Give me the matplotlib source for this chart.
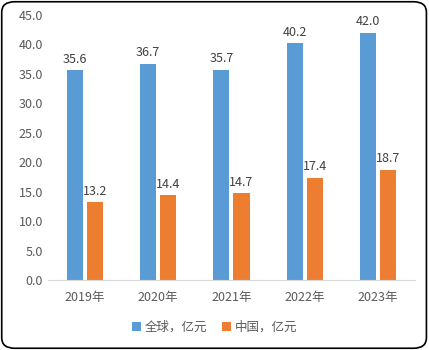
import numpy as np
import matplotlib
matplotlib.use("Agg")
import matplotlib.pyplot as plt
from matplotlib.patches import FancyBboxPatch

plt.rcParams['font.family'] = ['Noto Sans CJK SC', 'DejaVu Sans']

years = ['2019年', '2020年', '2021年', '2022年', '2023年']
world = [35.6, 36.7, 35.7, 40.2, 42.0]
china = [13.2, 14.4, 14.7, 17.4, 18.7]

fig = plt.figure(figsize=(4.29, 3.5), dpi=100)
ax = fig.add_axes([0.112, 0.2, 0.855, 0.757])

x = np.arange(len(years))
w = 0.22
off = 0.137
b1 = ax.bar(x - off, world, w, color='#5b9bd5', label='全球，亿元')
b2 = ax.bar(x + off, china, w, color='#ed7d31', label='中国，亿元')

for bars in (b1, b2):
    for r in bars:
        ax.text(r.get_x() + r.get_width() / 2, r.get_height() + 0.8,
                '%.1f' % r.get_height(), ha='center', va='bottom',
                fontsize=9, color='#404040')

ax.set_ylim(0, 45)
ax.set_yticks(np.arange(0, 46, 5))
ax.set_yticklabels(['%.1f' % v for v in np.arange(0, 46, 5)])
ax.set_xlim(-0.5, 4.5)
ax.set_xticks(x)
ax.set_xticklabels(years)
ax.tick_params(length=0, labelsize=9, colors='#595959')
ax.tick_params(axis='x', pad=8)
for s in ['top', 'right', 'left']:
    ax.spines[s].set_visible(False)
ax.spines['bottom'].set_color('#d9d9d9')

leg = fig.legend(handles=[b1, b2], loc='center', bbox_to_anchor=(0.5, 0.065),
                 ncol=2, frameon=False, fontsize=9, handlelength=0.7,
                 handleheight=0.7, columnspacing=1.2, handletextpad=0.3)
for t in leg.get_texts():
    t.set_color('#595959')

border = FancyBboxPatch((0.004, 0.005), 0.99, 0.99, boxstyle='round,pad=0,rounding_size=0.03',
                        transform=fig.transFigure, fill=False, edgecolor='black', lw=1.2)
fig.patches.append(border)

fig.savefig('out.png', dpi=100)
